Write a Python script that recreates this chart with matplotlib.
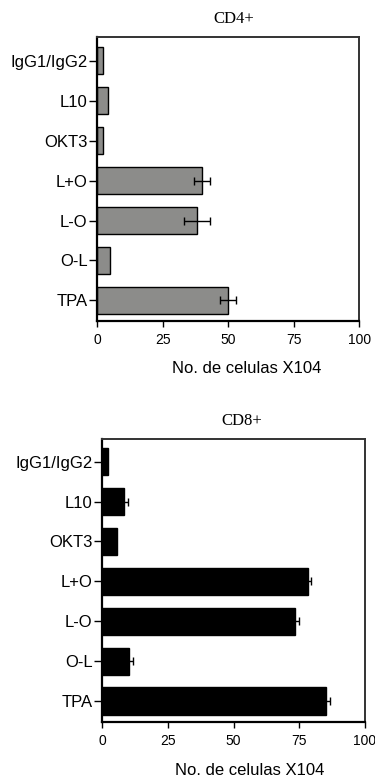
import matplotlib
matplotlib.use("Agg")
import matplotlib.pyplot as plt

categories = ["IgG1/IgG2", "L10", "OKT3", "L+O", "L-O", "O-L", "TPA"]
cd4_values = [2.0, 4.2, 2.0, 40.0, 38.0, 5.0, 50.0]
cd4_errors = [0, 0, 0, 3.0, 5.0, 0, 3.0]
cd8_values = [2.3, 8.3, 5.5, 78.2, 73.2, 10.3, 85.2]
cd8_errors = [0, 1.5, 0, 1.2, 1.8, 1.2, 1.4]
xticks = [0, 25, 50, 75, 100]
xlabel = "No. de celulas X104"

W, H = 375, 778
fig = plt.figure(figsize=(W / 100, H / 100), dpi=100)


def px_axes(left, top, right, bottom):
    return fig.add_axes([left / W, 1 - bottom / H, (right - left) / W, (bottom - top) / H])


def draw(ax, values, errors, color, title, ylim, title_x, title_pad, label_x, label_y):
    y = list(range(len(categories)))
    ax.barh(y, values, height=0.68, color=color, edgecolor="black", linewidth=1.0, zorder=2)
    for yi, v, e in zip(y, values, errors):
        if e > 0:
            ax.errorbar(v, yi, xerr=e, fmt="none", ecolor="black", elinewidth=1.0,
                        capsize=3, capthick=1.0, zorder=3)
    ax.set_xlim(0, 100)
    ax.set_ylim(*ylim)
    ax.set_yticks(y)
    ax.set_yticklabels(categories, fontsize=12, family="Liberation Sans")
    ax.set_xticks(xticks)
    ax.set_xticklabels([str(t) for t in xticks], fontsize=10, family="Liberation Sans")
    ax.tick_params(axis="y", length=6, width=1, pad=1)
    ax.tick_params(axis="x", length=4, width=1, pad=5)
    for s in ["left", "bottom"]:
        ax.spines[s].set_linewidth(1.6)
        ax.spines[s].set_color("black")
    for s in ["top", "right"]:
        ax.spines[s].set_linewidth(1.4)
        ax.spines[s].set_color("#333333")
    ax.set_title(title, fontsize=12, family="Liberation Serif", x=title_x, pad=title_pad)
    ax.set_xlabel(xlabel, fontsize=12, family="Liberation Sans")
    ax.xaxis.set_label_coords(label_x, label_y)


ax1 = px_axes(97.3, 37.3, 359.3, 320.7)
draw(ax1, cd4_values, cd4_errors, "#8c8c8a", "CD4+", (6.51, -0.59), 0.52, 10, 0.57, -0.142)

ax2 = px_axes(102.3, 439.3, 365.0, 721.7)
draw(ax2, cd8_values, cd8_errors, "black", "CD8+", (6.52, -0.56), 0.53, 10, 0.56, -0.147)

fig.savefig("out.png", dpi=100)
